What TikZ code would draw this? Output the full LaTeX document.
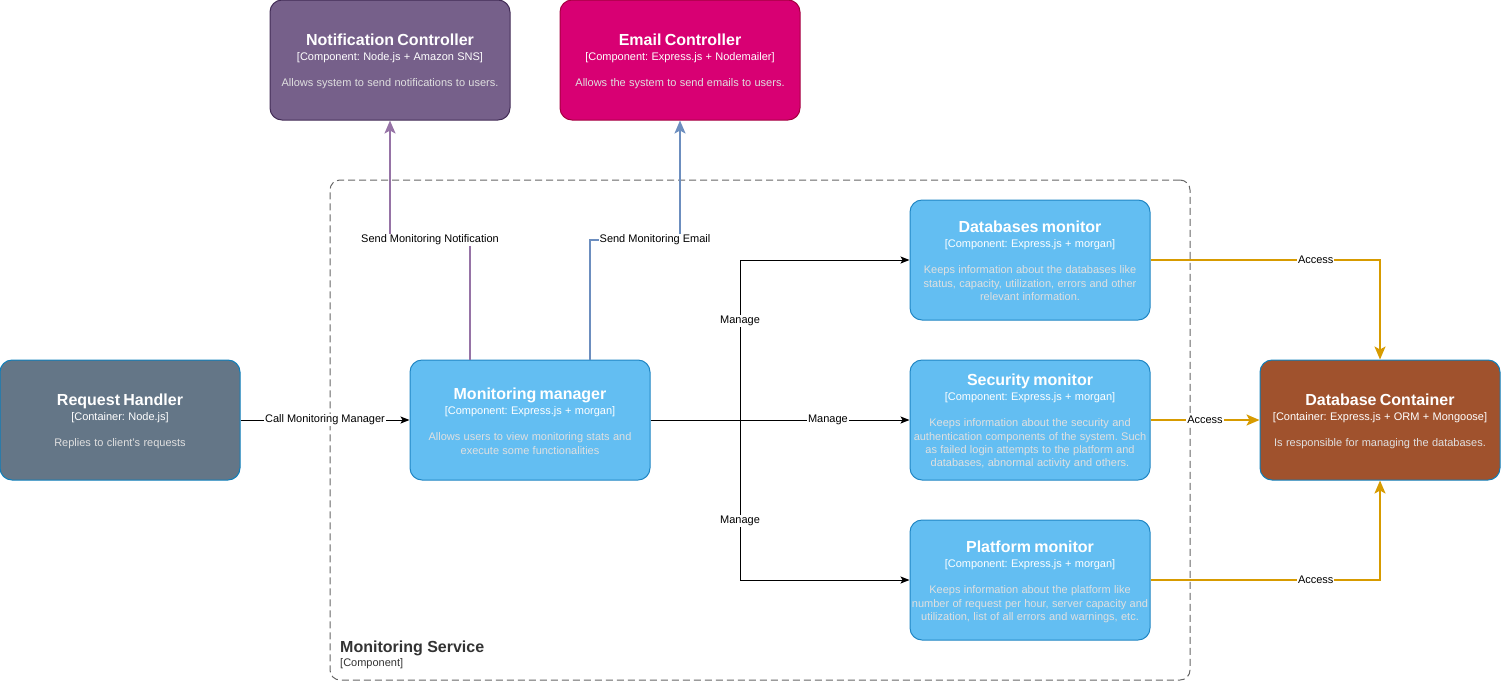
\documentclass[tikz,border=0pt]{standalone}
\usepackage{fontspec}
\setmainfont{Liberation Sans}
\usetikzlibrary{arrows.meta}
\frenchspacing
\hyphenpenalty=10000
\definecolor{notiff}{HTML}{76608A}
\definecolor{notifd}{HTML}{432D57}
\definecolor{mailf}{HTML}{D80073}
\definecolor{maild}{HTML}{A50040}
\definecolor{rhf}{HTML}{647687}
\definecolor{cstroke}{HTML}{0E7FBB}
\definecolor{compf}{HTML}{63BEF2}
\definecolor{compd}{HTML}{2086C4}
\definecolor{dbf}{HTML}{A0522D}
\definecolor{descc}{HTML}{E0E0E0}
\definecolor{purp}{HTML}{9673A6}
\definecolor{bluel}{HTML}{6C8EBF}
\definecolor{gold}{HTML}{D79B00}
\definecolor{bound}{HTML}{666666}
\definecolor{dark}{HTML}{333333}
\newcommand\bxtitle[1]{{\fontsize{16}{19.2}\selectfont\bfseries #1\par}}
\newcommand\bxsub[1]{{\fontsize{11}{14.5}\selectfont #1\par}}
\newcommand\bxdesc[1]{\vspace{13.4pt}{\fontsize{11}{13.2}\selectfont\color{descc}#1\par}}
\tikzset{
  box/.style={rounded corners=12pt, minimum width=240pt, minimum height=120pt,
    inner sep=0pt, text width=238pt, align=center, text=white, line width=1pt},
  tb/.style={text height=#1pt, text depth={120pt-#1pt}},
  lbl/.style={fill=white, font=\fontsize{11}{13}\selectfont, inner sep=1pt, text=black},
  blk/.style={draw=black, line width=1pt, -{Stealth[length=9pt,width=7pt,inset=2pt]}},
  colr/.style={line width=2pt, -{Stealth[length=13pt,width=11pt,inset=3pt]}}
}
\begin{document}
\begin{tikzpicture}[x=1pt,y=-1pt]
\useasboundingbox (0,0) rectangle (1501,681);
% boundary
\node[draw=bound, dashed, dash pattern=on 7pt off 4pt, line width=1pt, rounded corners=10pt,
  minimum width=860pt, minimum height=500pt, inner sep=0pt] (ms) at (760,430) {};
\node[anchor=north west, align=left, text=dark, inner sep=0pt] (msl) at (340,641)
  {{\fontsize{16}{18}\selectfont\bfseries Monitoring Service}\\[2pt]{\fontsize{11}{13}\selectfont [Component]}};
% boxes
\node[box, tb=45.7, fill=notiff, draw=notifd] (nc) at (390,60)
  {\bxtitle{Notification Controller}\bxsub{[Component: Node.js + Amazon SNS]}\bxdesc{Allows system to send notifications to users.}};
\node[box, tb=45.7, fill=mailf, draw=maild] (ec) at (680,60)
  {\bxtitle{Email Controller}\bxsub{[Component: Express.js + Nodemailer]}\bxdesc{Allows the system to send emails to users.}};
\node[box, tb=45.7, fill=rhf, draw=cstroke] (rh) at (120,420)
  {\bxtitle{Request Handler}\bxsub{[Container: Node.js]}\bxdesc{Replies to client's requests}};
\node[box, tb=39.7, fill=compf, draw=compd] (mm) at (530,420)
  {\bxtitle{Monitoring manager}\bxsub{[Component: Express.js + morgan]}\bxdesc{Allows users to view monitoring stats and\\ execute some functionalities}};
\node[box, tb=32.7, fill=compf, draw=compd] (dbm) at (1030,260)
  {\bxtitle{Databases monitor}\bxsub{[Component: Express.js + morgan]}\bxdesc{Keeps information about the databases like\\ status, capacity, utilization, errors and other\\ relevant information.}};
\node[box, tb=25.7, fill=compf, draw=compd] (sm) at (1030,420)
  {\bxtitle{Security monitor}\bxsub{[Component: Express.js + morgan]}\bxdesc{Keeps information about the security and\\ authentication components of the system. Such\\ as failed login attempts to the platform and\\ databases, abnormal activity and others.}};
\node[box, tb=32.7, fill=compf, draw=compd] (pm) at (1030,580)
  {\bxtitle{Platform monitor}\bxsub{[Component: Express.js + morgan]}\bxdesc{Keeps information about the platform like\\ number of request per hour, server capacity and\\ utilization, list of all errors and warnings, etc.}};
\node[box, tb=45.7, fill=dbf, draw=cstroke] (dbc) at (1380,420)
  {\bxtitle{Database Container}\bxsub{[Container: Express.js + ORM + Mongoose]}\bxdesc{Is responsible for managing the databases.}};
% connectors
\coordinate (nup) at (470,240);
\coordinate (eup) at (590,240);
\coordinate (j) at (740,420);
\draw[blk] (rh.east) -- node[lbl]{Call Monitoring Manager} (mm.west);
\draw[colr, draw=purp] (mm.north -| nup) -- (nup) -| node[lbl, pos=0.25]{Send Monitoring Notification} (nc.south);
\draw[colr, draw=bluel] (mm.north -| eup) -- (eup) -| node[lbl, pos=0.5, xshift=-25pt]{Send Monitoring Email} (ec.south);
\draw[blk] (mm.east) -- node[lbl, pos=0.685]{Manage} (sm.west);
\draw[blk] (j) |- node[lbl, pos=0.31]{Manage} (dbm.west);
\draw[blk] (j) |- node[lbl, pos=0.315]{Manage} (pm.west);
\draw[colr, draw=gold] (dbm.east) -| node[lbl, pos=0.36]{Access} (dbc.north);
\draw[colr, draw=gold] (sm.east) -- node[lbl]{Access} (dbc.west);
\draw[colr, draw=gold] (pm.east) -| node[lbl, pos=0.36]{Access} (dbc.south);
\end{tikzpicture}
\end{document}
